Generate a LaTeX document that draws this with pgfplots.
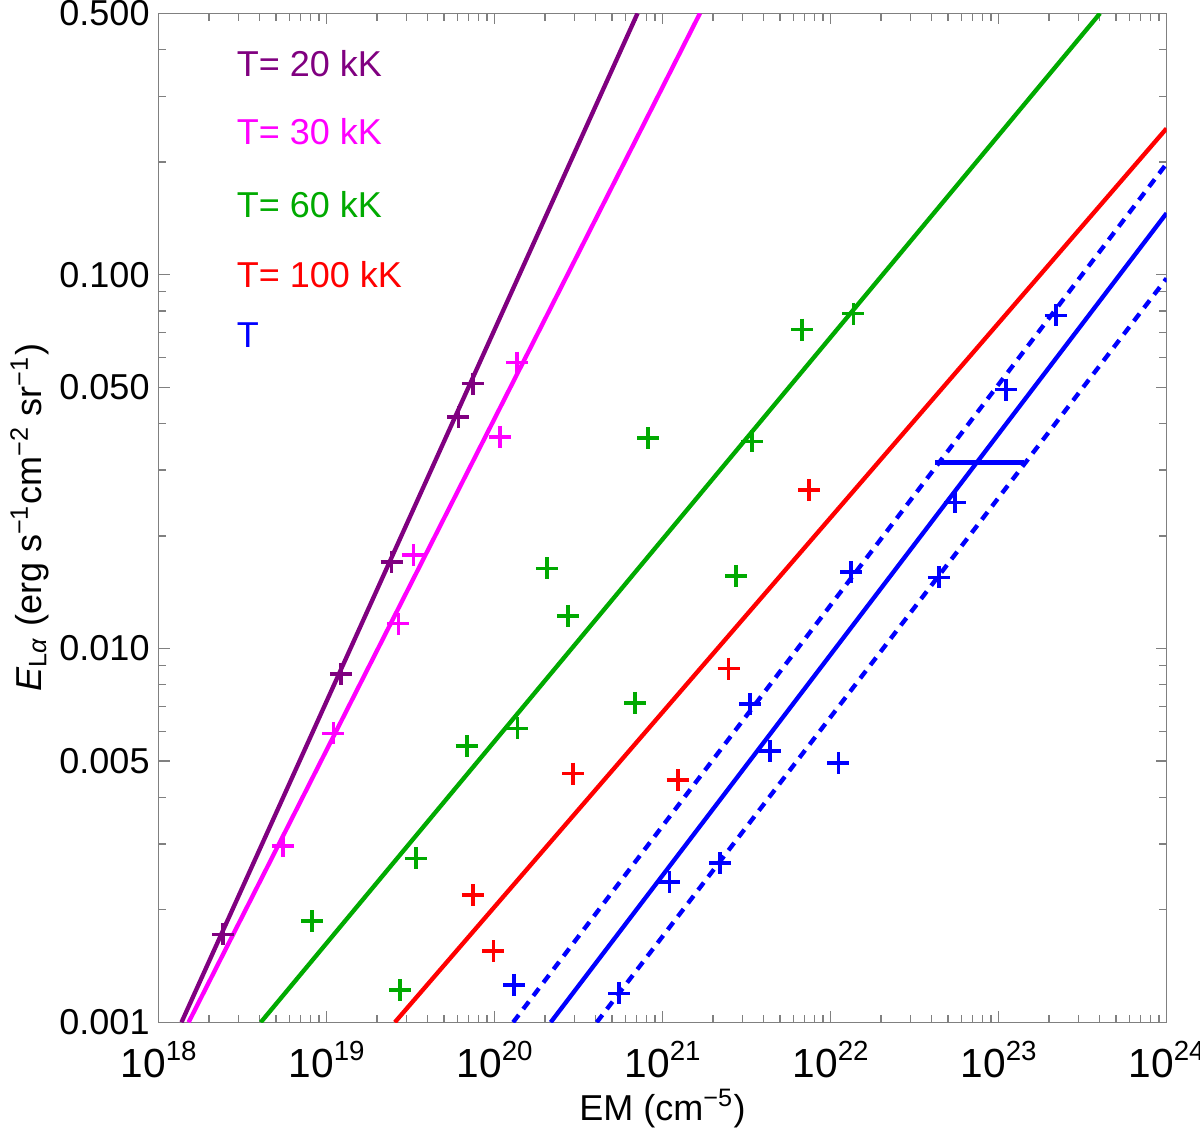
\documentclass[border=0pt]{standalone}
\usepackage{fontspec}
\setmainfont{Liberation Sans}
\usepackage{pgfplots}
\pgfplotsset{compat=1.18}
\definecolor{cpurple}{rgb}{0.5,0,0.5}
\definecolor{cmagenta}{rgb}{1,0,1}
\definecolor{cgreen}{rgb}{0,0.667,0}
\definecolor{cred}{rgb}{1,0,0}
\definecolor{cblue}{rgb}{0,0,1}
\newcommand{\fs}{\fontsize{10.8}{13}\selectfont}
\newcommand{\fx}{\fontsize{12.2}{14}\selectfont}
\newcommand{\tp}[1]{10\raisebox{5.1pt}{\fontsize{8.3}{10}\selectfont #1}}
\begin{document}
\begin{tikzpicture}
\begin{axis}[
  scale only axis, width=302.4pt, height=302.7pt,
  xmode=log, ymode=log,
  xmin=1e18, xmax=1e24, ymin=0.001, ymax=0.5,
  xtick={1e18,1e19,1e20,1e21,1e22,1e23,1e24},
  xticklabels={\tp{18},\tp{19},\tp{20},\tp{21},\tp{22},\tp{23},\tp{24}},
  minor xtick={2e18,3e18,4e18,5e18,6e18,7e18,8e18,9e18,
               2e19,3e19,4e19,5e19,6e19,7e19,8e19,9e19,
               2e20,3e20,4e20,5e20,6e20,7e20,8e20,9e20,
               2e21,3e21,4e21,5e21,6e21,7e21,8e21,9e21,
               2e22,3e22,4e22,5e22,6e22,7e22,8e22,9e22,
               2e23,3e23,4e23,5e23,6e23,7e23,8e23,9e23},
  ytick={0.001,0.005,0.01,0.05,0.1,0.5},
  yticklabels={0.001,0.005,0.010,0.050,0.100,0.500},
  minor ytick={0.002,0.003,0.004,0.006,0.007,0.008,0.009,0.02,0.03,0.04,0.06,0.07,0.08,0.09,0.2,0.3,0.4},
  tick align=inside,
  axis line style={draw=black!50, line width=0.4pt},
  every tick/.style={draw=black!50, line width=0.4pt},
  major tick length=3.3pt, minor tick length=2.2pt,
  xticklabel style={font=\fx, anchor=base, inner sep=0pt, yshift=-16.6pt},
  yticklabel style={font=\fs, anchor=east, inner sep=0pt, xshift=-2.5pt},
  xlabel={EM (cm\textsuperscript{−5})},
  ylabel={\textit{E}\textsubscript{L\textit{α}} (erg s\textsuperscript{−1}cm\textsuperscript{−2} sr\textsuperscript{−1})},
  xlabel style={font=\fs, at={(axis description cs:0.5,-0.097)}, anchor=base},
  ylabel style={font=\fs, at={(axis description cs:-0.1166,0.5)}, anchor=base},
  mark size=3.3pt,
]
% model lines
\addplot[cpurple, line width=1.3pt] coordinates {(1.37e18,0.001) (7.1e20,0.5)};
\addplot[cmagenta, line width=1.3pt] coordinates {(1.51e18,0.001) (1.67e21,0.5)};
\addplot[cgreen, line width=1.3pt] coordinates {(4.06e18,0.001) (4.02e23,0.5)};
\addplot[cred, line width=1.3pt] coordinates {(2.55e19,0.001) (1e24,0.246)};
\addplot[cblue, line width=1.3pt] coordinates {(2.16e20,0.001) (1e24,0.146)};
\addplot[cblue, line width=1.3pt, dash pattern=on 2.8pt off 2.2pt] coordinates {(1.29e20,0.001) (1e24,0.198)};
\addplot[cblue, line width=1.3pt, dash pattern=on 2.8pt off 2.2pt] coordinates {(4.06e20,0.001) (1e24,0.0977)};
\addplot[cblue, line width=1.3pt] coordinates {(4.19e22,0.03144) (1.425e23,0.03144)};
% data points
\addplot[only marks, mark=+, cpurple, mark options={line width=1.1pt}] coordinates {
(2.43e18,1.718e-3) (1.22e19,8.54e-3) (2.44e19,0.01704) (6.09e19,0.04162) (7.42e19,0.0511)};
\addplot[only marks, mark=+, cmagenta, mark options={line width=1.1pt}] coordinates {
(5.49e18,2.96e-3) (1.10e19,5.93e-3) (2.68e19,0.01166) (3.29e19,0.01776) (1.079e20,0.0368) (1.356e20,0.0582)};
\addplot[only marks, mark=+, cgreen, mark options={line width=1.1pt}] coordinates {
(2.74e19,1.22e-3) (8.23e18,1.866e-3) (3.40e19,2.745e-3) (6.83e19,5.48e-3) (1.367e20,6.11e-3)
(6.86e20,7.15e-3) (2.73e20,0.01223) (2.05e20,0.01637) (8.23e20,0.03656) (2.74e21,0.01564)
(3.42e21,0.0358) (6.79e21,0.0713) (1.367e22,0.0787)};
\addplot[only marks, mark=+, cred, mark options={line width=1.1pt}] coordinates {
(7.42e19,2.19e-3) (9.84e19,1.551e-3) (2.94e20,4.63e-3) (1.231e21,4.44e-3) (2.47e21,8.84e-3) (7.45e21,0.0265)};
\addplot[only marks, mark=+, cblue, mark options={line width=1.1pt}] coordinates {
(1.306e20,1.26e-3) (5.53e20,1.195e-3) (1.098e21,2.376e-3) (2.20e21,2.67e-3) (3.32e21,7.11e-3)
(4.36e21,5.32e-3) (1.113e22,4.93e-3) (1.324e22,0.01603) (4.41e22,0.01549) (5.53e22,0.02458)
(1.108e23,0.04926) (2.19e23,0.0778)};
% legend texts
\node[anchor=base west, text=cpurple, font=\fs, inner sep=0pt] at (rel axis cs:0.077,0.9372) {T= 20 kK};
\node[anchor=base west, text=cmagenta, font=\fs, inner sep=0pt] at (rel axis cs:0.077,0.8695) {T= 30 kK};
\node[anchor=base west, text=cgreen, font=\fs, inner sep=0pt] at (rel axis cs:0.077,0.7981) {T= 60 kK};
\node[anchor=base west, text=cred, font=\fs, inner sep=0pt] at (rel axis cs:0.077,0.7278) {T= 100 kK};
\node[anchor=base west, text=cblue, font=\fs, inner sep=0pt] at (rel axis cs:0.077,0.6693) {T};
\end{axis}
\pgfresetboundingbox
\useasboundingbox (-47.55pt,-32.6pt) rectangle (312.45pt,306.7pt);
\end{tikzpicture}
\end{document}
